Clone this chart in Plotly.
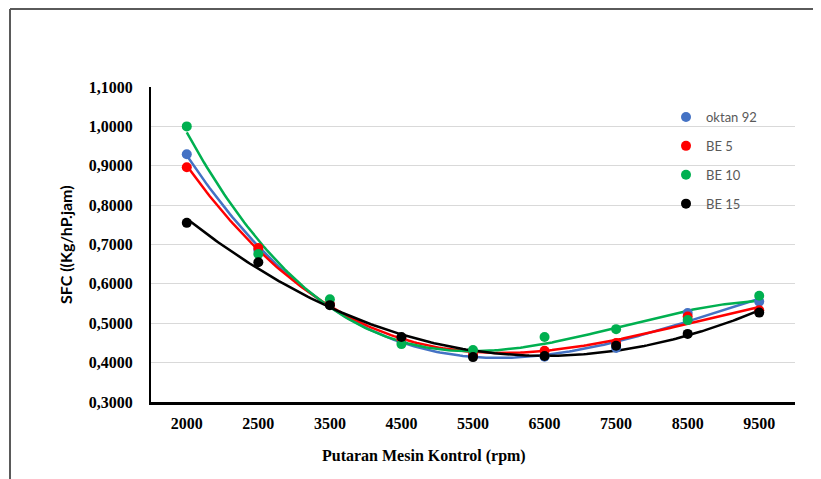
import numpy as np
import plotly.graph_objects as go

categories = ["2000", "2500", "3500", "4500", "5500", "6500", "7500", "8500", "9500"]
oktan92 = [0.929, 0.686, 0.547, 0.455, 0.417, 0.415, 0.437, 0.526, 0.555]
be5 = [0.896, 0.691, 0.548, 0.460, 0.420, 0.430, 0.450, 0.517, 0.533]
be10 = [1.000, 0.676, 0.561, 0.447, 0.432, 0.465, 0.485, 0.508, 0.570]
be15 = [0.755, 0.655, 0.546, 0.465, 0.414, 0.417, 0.443, 0.473, 0.527]
y_ticks = [0.3, 0.4, 0.5, 0.6, 0.7, 0.8, 0.9, 1.0, 1.1]

series = [
    ("oktan 92", oktan92, "#4472C4"),
    ("BE 5", be5, "#FF0000"),
    ("BE 10", be10, "#00B050"),
    ("BE 15", be15, "#000000"),
]

W, H = 821, 479
OFF = 8  # page body margin
L, R, T, B = 151 - OFF, 821 - (795 - OFF), 87 - OFF, 479 - (402 - OFF)
pw, ph = W - L - R, H - T - B

def px_x(p):
    return (p - OFF - L) / pw

def px_y(p):
    return (H - B - (p - OFF)) / ph

idx = np.arange(len(categories))
fine = np.linspace(0, len(categories) - 1, 200)

fig = go.Figure()
for name, vals, col in series:
    coef = np.polyfit(idx + 1, vals, 3)
    fig.add_trace(go.Scatter(x=fine, y=np.polyval(coef, fine + 1), mode="lines",
                             line=dict(color=col, width=2.5), showlegend=False,
                             hoverinfo="skip"))
for i, (name, vals, col) in enumerate(series):
    fig.add_trace(go.Scatter(x=idx, y=vals, mode="markers", name=name,
                             marker=dict(color=col, size=10),
                             legendgroup=f"g{i}"))

tickfont = dict(family="Liberation Serif", size=16, color="#000000", weight="bold")

fig.update_layout(
    width=W, height=H,
    margin=dict(l=L, r=R, t=T, b=B),
    paper_bgcolor="white", plot_bgcolor="white",
    separators=",.",
    xaxis=dict(range=[-0.5, len(categories) - 0.5], tickvals=idx, ticktext=categories,
               showgrid=False, zeroline=False, showline=True, linecolor="#000000",
               linewidth=2.5, ticks="", tickfont=tickfont, ticklabelstandoff=5),
    yaxis=dict(range=[0.3, 1.1], tickvals=y_ticks, tickformat=".4f",
               showgrid=True, gridcolor="#D9D9D9", gridwidth=1, zeroline=False,
               showline=True, linecolor="#000000", linewidth=2, ticks="",
               tickfont=tickfont, ticklabelstandoff=13),
    legend=dict(x=px_x(666), y=px_y(102), xanchor="left", yanchor="top",
                font=dict(family="Lato", size=13, color="#595959"),
                traceorder="grouped", tracegroupgap=9, bgcolor="rgba(0,0,0,0)",
                itemwidth=30),
    showlegend=True,
    annotations=[
        dict(text="Putaran Mesin Kontrol (rpm)", x=px_x(424), y=px_y(456),
             xref="paper", yref="paper", showarrow=False, xanchor="center", yanchor="middle",
             font=dict(family="Liberation Serif", size=16, color="#000000", weight="bold")),
        dict(text="SFC ((Kg/hP.jam)", x=px_x(65), y=px_y(245), textangle=-90,
             xref="paper", yref="paper", showarrow=False, xanchor="center", yanchor="middle",
             font=dict(family="Lato", size=16, color="#000000", weight="bold")),
    ],
    shapes=[
        dict(type="line", xref="paper", yref="paper", x0=px_x(10), x1=px_x(840),
             y0=px_y(9), y1=px_y(9), line=dict(color="#5A5A5A", width=2)),
        dict(type="line", xref="paper", yref="paper", x0=px_x(10), x1=px_x(10),
             y0=px_y(9), y1=px_y(500), line=dict(color="#5A5A5A", width=2)),
    ],
)

fig.write_html("out.html")
